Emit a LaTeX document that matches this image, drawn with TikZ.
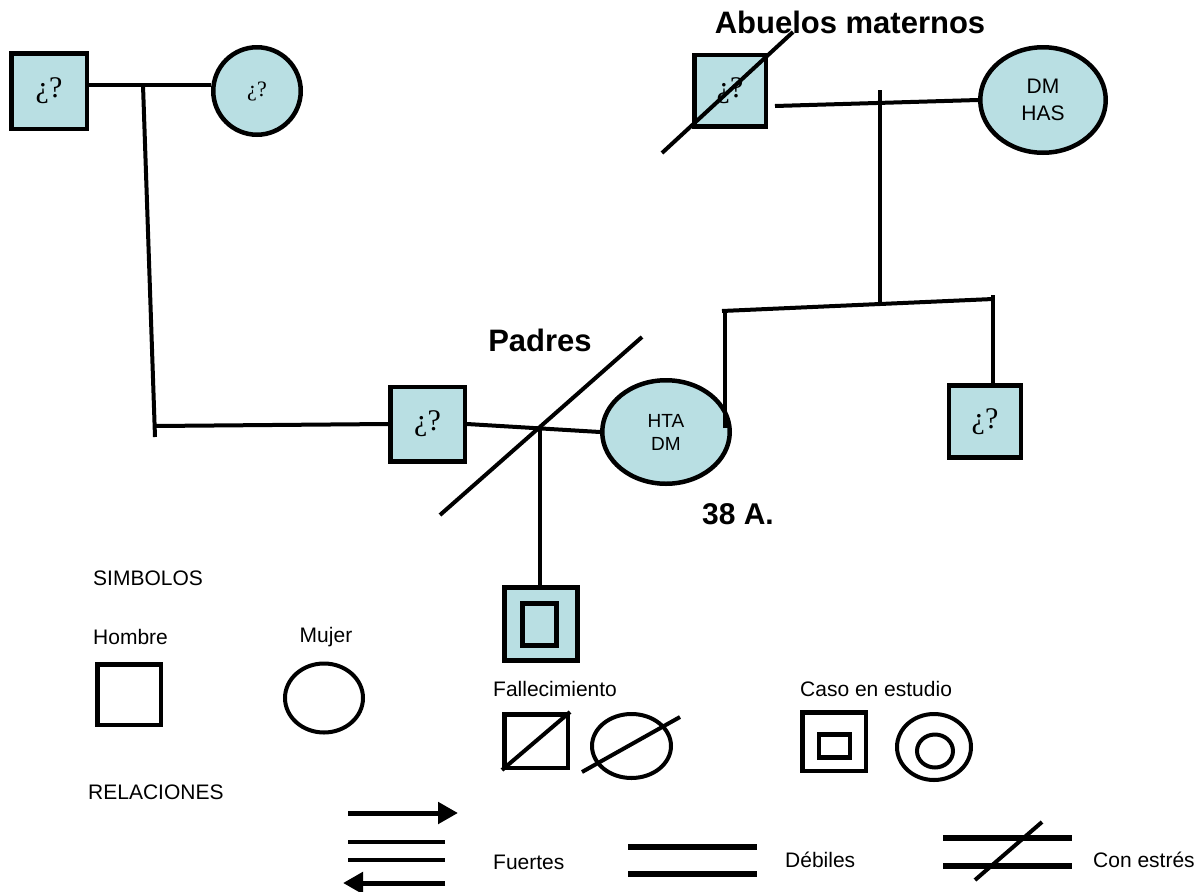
\documentclass[tikz,border=0pt]{standalone}
\usepackage{fontspec}
\setmainfont{Liberation Serif}
\newfontfamily\sansf{Liberation Sans}
\usetikzlibrary{shapes.geometric,arrows.meta,calc}
\definecolor{fillblue}{RGB}{185,223,227}
\begin{document}
\begin{tikzpicture}[x=1pt,y=-1pt,
  person/.style={draw=black,line width=4.5pt,fill=fillblue,inner sep=0pt},
  male/.style={person,rectangle,minimum size=#1},
  rel/.style={line width=4pt},
  lbl/.style={font=\sansf\bfseries\fontsize{31}{37}\selectfont},
  qm/.style={font=\fontsize{30}{36}\selectfont},
  leg/.style={font=\sansf\fontsize{21}{25}\selectfont,inner sep=0pt},
  legshape/.style={draw=black,line width=4.5pt,inner sep=0pt},
  legline/.style={line width=4pt}
]
\useasboundingbox (0,0) rectangle (1203,892);
\fill[white] (0,0) rectangle (1203,892);

% paternal grandparents
\node[male=75.5,qm] (gpA) at (49,91) {¿?};
\node[person,circle,minimum size=87.5,font=\fontsize{22}{26}\selectfont] (gmA) at (257,91) {¿?};
\coordinate (jA) at (143,85);
\coordinate (jAb) at (155,437);
\coordinate (jB) at (155,426);
\draw[rel] (gpA.east |- jA) -- (gmA.west |- jA);
\draw[rel] (jA) -- (jAb);

% parents
\node[male=74.5,qm] (fa) at (427.5,424) {¿?};
\node[person,ellipse,minimum width=127.5,minimum height=103.5,align=center,
      font=\sansf\fontsize{19}{23}\selectfont] (mo) at (666,432) {HTA\\DM};
\draw[rel] (jB) -- (fa.west);
\draw[rel] (fa.east) -- (mo.west);
\coordinate (jP) at ($(fa.east)!0.55!(mo.west)$);
\coordinate (pd1) at (440,515);
\coordinate (pd2) at (642,337);
\draw[rel] (pd1) -- (pd2);
\node[lbl] (padres) at (540,340) {Padres};
\node[font=\sansf\bfseries\fontsize{30}{36}\selectfont] (edad) at (738,514) {38 A.};

% child (case under study)
\node[male=73.5,line width=5pt] (ch) at (541,624) {};
\node[person,rectangle,line width=5pt,minimum width=34.5,minimum height=42.5] (chi) at (539.5,624.5) {};
\draw[rel] (jP) -- (jP |- ch.north);

% maternal side
\coordinate (jM) at (725,428);
\coordinate (sibL) at (722,311);
\coordinate (sibR) at (993,299);
\coordinate (sibRt) at (993,295);
\draw[rel] (jM) -- (jM |- sibL);
\draw[rel] (sibL) -- (sibR);
\node[male=72,qm] (un) at (985,421.5) {¿?};
\draw[rel] (sibRt) -- (sibRt |- un.north);

\node[male=71.5,qm] (gpB) at (730,90.5) {¿?};
\coordinate (gd1) at (662,153);
\coordinate (gd2) at (793,32);
\draw[rel] (gd1) -- (gd2);
\node[person,ellipse,minimum width=125.5,minimum height=105.5,align=center,
      font=\sansf\fontsize{21}{27}\selectfont] (gmB) at (1043,100) {DM\\HAS};
\coordinate (gl) at (775,106);
\draw[rel] (gl) -- (gmB.west);
\coordinate (jG1) at (880,90);
\coordinate (jG2) at (880,303);
\draw[rel] (jG1) -- (jG2);
\node[lbl] (abuelos) at (850,22) {Abuelos maternos};

% legend: symbols
\node[leg,anchor=west] (simb) at (93,578) {SIMBOLOS};
\node[leg,anchor=west] (hom) at (93,637) {Hombre};
\node[leg] (muj) at (326,637) {Mujer};
\node[legshape,rectangle,minimum width=63.5,minimum height=60.5] (lh) at (129,694.5) {};
\node[legshape,ellipse,line width=4pt,minimum width=78,minimum height=69] (lm) at (324,698) {};

\node[leg,anchor=west] (fall) at (493,689) {Fallecimiento};
\node[legshape,rectangle,minimum width=63.5,minimum height=53.5] (fs) at (536,741) {};
\draw[line width=4pt] (fs.south west) -- (fs.north east);
\node[legshape,ellipse,line width=4pt,minimum width=79,minimum height=64] (fc) at (631.5,746) {};
\coordinate (fc1) at (582,772);
\coordinate (fc2) at (680,717);
\draw[line width=4pt] (fc1) -- (fc2);

\node[leg,anchor=west] (caso) at (800,689) {Caso en estudio};
\node[legshape,rectangle,minimum width=63.5,minimum height=58.5] (cs) at (834,741.5) {};
\node[legshape,rectangle,minimum width=31,minimum height=23] (csi) at (834.5,746) {};
\node[legshape,ellipse,line width=4pt,minimum width=74,minimum height=66] (cc) at (934,747) {};
\node[legshape,ellipse,line width=4pt,minimum width=36,minimum height=33] (cci) at (935,751) {};

% legend: relations
\node[leg,anchor=west] (relac) at (88,792) {RELACIONES};
\coordinate (a1s) at (348,813); \coordinate (a1e) at (458,813);
\coordinate (l2s) at (348,842); \coordinate (l2e) at (445,842);
\coordinate (l3s) at (348,860); \coordinate (l3e) at (445,860);
\coordinate (a4s) at (445,883); \coordinate (a4e) at (343,883);
\draw[line width=5pt,-{Triangle[length=20pt,width=21pt]}] (a1s) -- (a1e);
\draw[legline] (l2s) -- (l2e);
\draw[legline] (l3s) -- (l3e);
\draw[line width=5pt,-{Triangle[length=20pt,width=21pt]}] (a4s) -- (a4e);
\node[leg,anchor=west] (fuer) at (493,862) {Fuertes};

\coordinate (d1s) at (628,847); \coordinate (d1e) at (757,847);
\coordinate (d2s) at (628,874); \coordinate (d2e) at (757,874);
\draw[line width=6.5pt] (d1s) -- (d1e);
\draw[line width=6.5pt] (d2s) -- (d2e);
\node[leg,anchor=west] (deb) at (785,860) {Débiles};

\coordinate (e1s) at (943,838); \coordinate (e1e) at (1072,838);
\coordinate (e2s) at (943,866); \coordinate (e2e) at (1072,866);
\coordinate (e3s) at (975,880); \coordinate (e3e) at (1042,822);
\draw[line width=6pt] (e1s) -- (e1e);
\draw[line width=6pt] (e2s) -- (e2e);
\draw[line width=4pt] (e3s) -- (e3e);
\node[leg,anchor=west] (estr) at (1093,860) {Con estrés};
\end{tikzpicture}
\end{document}
